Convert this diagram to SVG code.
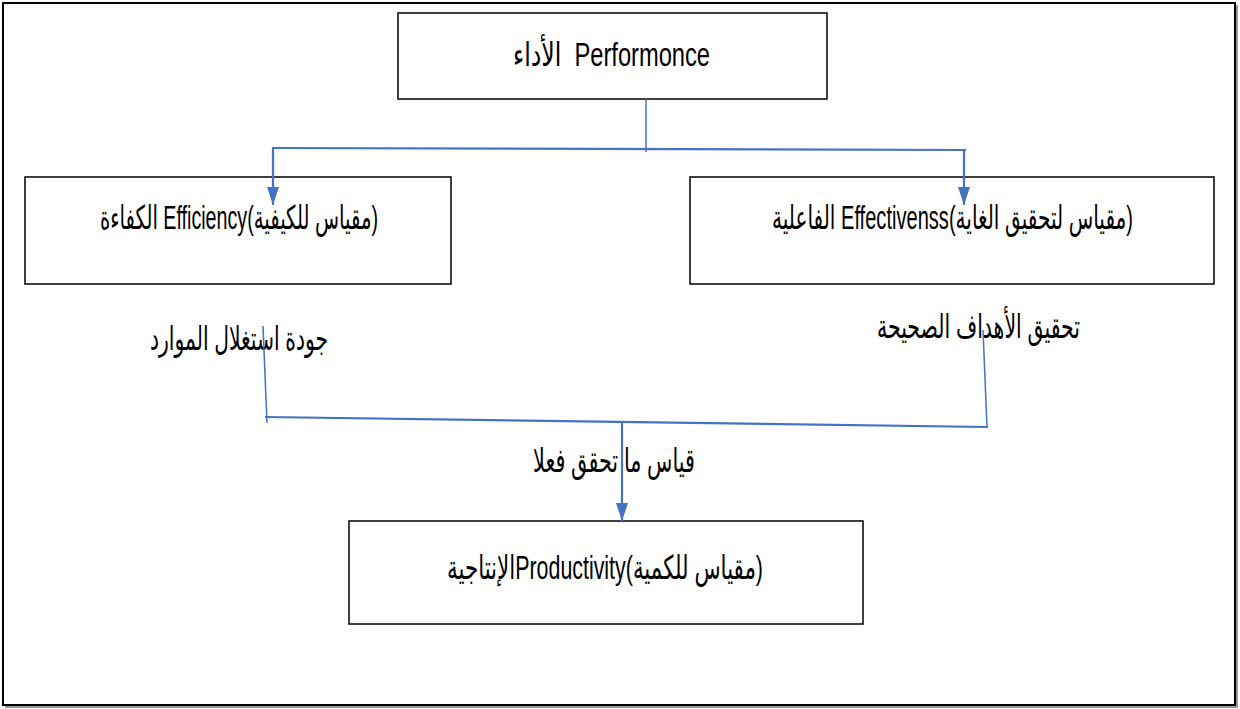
<svg xmlns="http://www.w3.org/2000/svg" width="1240" height="709" viewBox="0 0 1240 709">
<defs>
<style>
.box{fill:#fff;stroke:#000;stroke-width:1.5}
.t{font-family:"Liberation Sans","DejaVu Sans",sans-serif;font-size:33px;fill:#000}
.c{stroke:#4472C4;stroke-width:1.5;fill:none}
.a{stroke:#4472C4;stroke-width:2.2;fill:none}
</style>
<marker id="ah" markerWidth="18" markerHeight="12" refX="18" refY="6" orient="auto" markerUnits="userSpaceOnUse" viewBox="0 0 18 12">
<path d="M0,0 L18,6 L0,12 Z" fill="#4472C4"/>
</marker>
</defs>
<rect x="0" y="0" width="1240" height="709" fill="#fff"/>
<rect x="5" y="5" width="1233" height="703" fill="#999"/>
<rect x="3" y="3" width="1232" height="702" fill="#fff" stroke="#000" stroke-width="2"/>

<g id="performance">
<rect class="box" x="398" y="13" width="429" height="86"/>
<text class="t" x="513" y="66" textLength="197" lengthAdjust="spacingAndGlyphs" xml:space="preserve">الأداء  Performonce</text>
</g>

<g id="efficiency">
<rect class="box" x="25" y="177" width="426" height="107"/>
<text class="t" x="100" y="229" textLength="278" lengthAdjust="spacingAndGlyphs">الكفاءة Efficiency(مقياس للكيفية)</text>
</g>

<g id="effectiveness">
<rect class="box" x="690" y="177" width="524" height="107"/>
<text class="t" x="772" y="229" textLength="361" lengthAdjust="spacingAndGlyphs">الفاعلية Effectivenss(مقياس لتحقيق الغاية)</text>
</g>

<g id="label-resources">
<text class="t" x="150" y="350" textLength="178" lengthAdjust="spacingAndGlyphs">جودة استغلال الموارد</text>
</g>

<g id="label-goals">
<text class="t" x="877" y="338" textLength="203" lengthAdjust="spacingAndGlyphs">تحقيق الأهداف الصحيحة</text>
</g>

<g id="label-achieved">
<text class="t" x="533" y="472" textLength="162" lengthAdjust="spacingAndGlyphs">قياس ما تحقق فعلا</text>
</g>

<g id="productivity">
<rect class="box" x="349" y="521" width="514" height="103"/>
<text class="t" x="447" y="579" textLength="316" lengthAdjust="spacingAndGlyphs">الإنتاجيةProductivity(مقياس للكمية)</text>
</g>

<g id="connectors">
<line class="c" x1="646" y1="99" x2="646" y2="152"/>
<line class="a" x1="272" y1="148" x2="966" y2="150"/>
<path class="a" d="M273,148 L273,205" marker-end="url(#ah)"/>
<path class="a" d="M964,150 L964,205" marker-end="url(#ah)"/>
<line class="c" x1="263" y1="326" x2="267" y2="423"/>
<line class="c" x1="983" y1="330" x2="987" y2="427"/>
<line class="a" x1="265" y1="417" x2="988" y2="427"/>
<path class="a" d="M622,421 L622,521" marker-end="url(#ah)"/>
</g>
</svg>
